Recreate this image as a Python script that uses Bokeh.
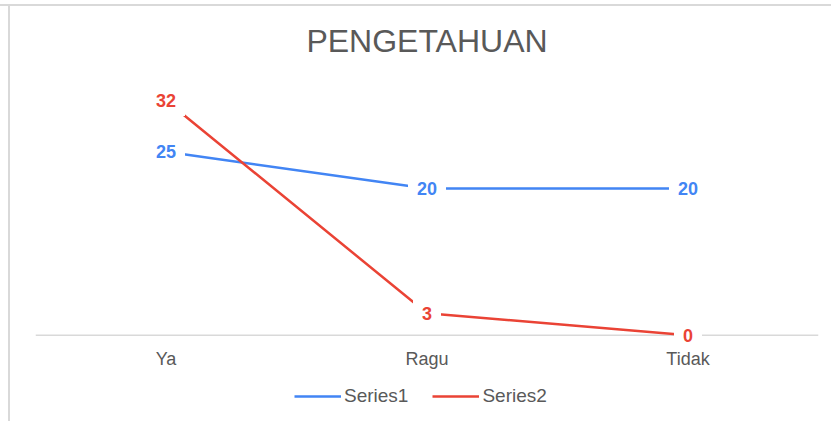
from bokeh.plotting import figure
from bokeh.models import ColumnDataSource, Legend, LegendItem, Range1d, FactorRange, Span
from bokeh.core.properties import value
from bokeh.embed import file_html
from bokeh.resources import INLINE

categories = ["Ya", "Ragu", "Tidak"]
series1 = [25, 20, 20]
series2 = [32, 3, 0]
series_names = ["Series1", "Series2"]
title_text = "PENGETAHUAN"

BLUE = "#4285F4"
RED = "#EA4335"
GREY = "#595959"

p = figure(width=831, height=421, x_range=FactorRange(*categories), y_range=Range1d(-11.35, 35),
           output_backend="svg", toolbar_location=None,
           min_border_left=35, min_border_right=13, min_border_top=75, min_border_bottom=3)
p.outline_line_color = None
p.border_fill_color = None
p.background_fill_color = "white"
p.styles = {"background": "linear-gradient(#d9d9d9,#d9d9d9) 0 4px / 100% 2px no-repeat, "
                          "linear-gradient(#d9d9d9,#d9d9d9) 8px 4px / 2px 100% no-repeat, white"}
p.xgrid.grid_line_color = None
p.ygrid.grid_line_color = None
p.xaxis.visible = False
p.yaxis.visible = False

p.title.text = title_text
p.title.align = "center"
p.title.text_font = "Liberation Sans"
p.title.text_font_size = "32px"
p.title.text_font_style = "normal"
p.title.text_color = GREY
p.title.standoff = 40

# category axis line at zero
p.add_layout(Span(location=0, dimension="width", line_color="#d9d9d9", line_width=1.5, level="underlay"))

# category tick labels
p.text(x=categories, y=[0] * len(categories), text=categories, text_align="center", text_baseline="middle",
       y_offset=24, text_font=value("Liberation Sans"), text_font_size="18px", text_color=GREY)

src1 = ColumnDataSource(dict(x=categories, y=series1, t=[str(v) for v in series1]))
src2 = ColumnDataSource(dict(x=categories, y=series2, t=[str(v) for v in series2]))

r1 = p.line("x", "y", source=src1, line_color=BLUE, line_width=2.5)
r2 = p.line("x", "y", source=src2, line_color=RED, line_width=2.5)

for src, col in ((src1, BLUE), (src2, RED)):
    p.text(x="x", y="y", text="t", source=src, text_align="center", text_baseline="middle",
           text_font=value("Liberation Sans"), text_font_style="bold", text_font_size="18px",
           text_color=col, background_fill_color="white", padding=9)

legend = Legend(items=[LegendItem(label=series_names[0], renderers=[r1]),
                       LegendItem(label=series_names[1], renderers=[r2])],
                orientation="horizontal", location=(259, 11),
                label_text_font="Liberation Sans", label_text_font_size="19px", label_text_color=GREY,
                glyph_width=47, label_standoff=3, spacing=24, border_line_color=None,
                background_fill_alpha=0, padding=4, margin=0)
p.add_layout(legend)

open("out.html", "w").write(file_html(p, INLINE))
